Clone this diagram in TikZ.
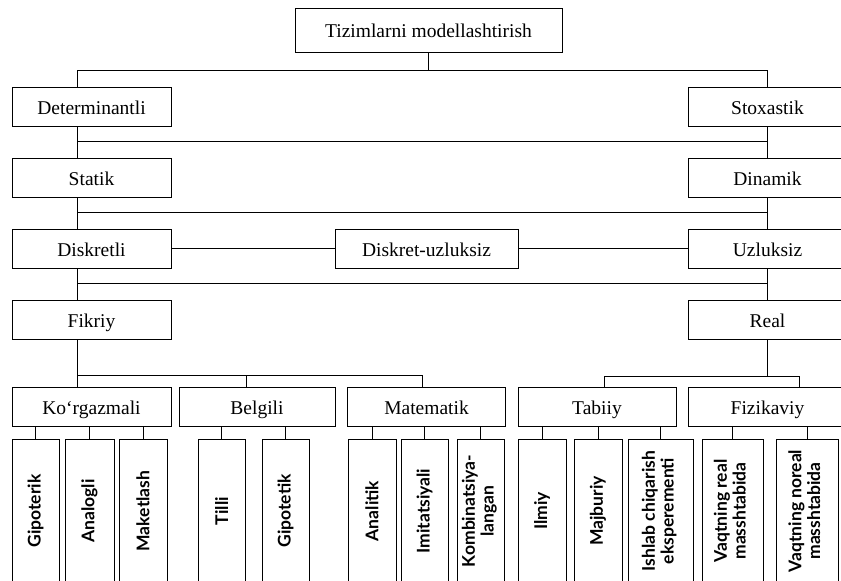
\documentclass[tikz,border=0pt]{standalone}
\usepackage{fontspec}
\setmainfont{Liberation Serif}
\newfontfamily\labfont{Lato}
\usepackage{tikz}

\begin{document}
\begin{tikzpicture}[x=1pt, y=-1pt, line width=1pt,
    box/.style={draw, inner sep=0pt, minimum height=39pt, minimum width=159pt,
      text height=16pt, text depth=1pt, font=\fontsize{19.5}{21}\selectfont},
    tallbox/.style={draw, inner sep=0pt, minimum height=144pt,
      font=\labfont\bfseries\fontsize{17.5}{18.5}\selectfont}]
	\useasboundingbox (0, 0) rectangle (841, 581);
	% top of the tree
	\node [box, minimum width=267pt, minimum height=44pt] (Top) at (428.5, 30) {Tizimlarni modellashtirish};
	\node [box] (Det) at (91.5, 106.5) {Determinantli};
	\node [box] (Sto) at (767.5, 106.5) {Stoxastik};
	\node [box] (Sta) at (91.5, 177.5) {Statik};
	\node [box] (Din) at (767.5, 177.5) {Dinamik};
	\node [box] (Dis) at (91.5, 248.5) {Diskretli};
	\node [box, minimum width=183pt] (DU) at (426.5, 248.5) {Diskret-uzluksiz};
	\node [box] (Uzl) at (767.5, 248.5) {Uzluksiz};
	\node [box] (Fik) at (91.5, 319.5) {Fikriy};
	\node [box] (Rea) at (767.5, 319.5) {Real};
	% second level
	\node [box] (Kor) at (91.5, 406.5) {Ko‘rgazmali};
	\node [box, minimum width=156pt] (Bel) at (257, 406.5) {Belgili};
	\node [box, minimum width=158pt] (Mat) at (426.5, 406.5) {Matematik};
	\node [box, minimum width=158pt] (Tab) at (597, 406.5) {Tabiiy};
	\node [box] (Fiz) at (767.5, 406.5) {Fizikaviy};
	% bottom row
	\node [tallbox, minimum width=47pt] (Gip) at (35.5, 511) {\rotatebox{90}{Gipoterik}};
	\node [tallbox, minimum width=49pt] (Ana) at (89.5, 511) {\rotatebox{90}{Analogli}};
	\node [tallbox, minimum width=48pt] (Mak) at (143, 511) {\rotatebox{90}{Maketlash}};
	\node [tallbox, minimum width=47pt] (Til) at (221.5, 511) {\rotatebox{90}{Tilli}};
	\node [tallbox, minimum width=47pt] (Gpt) at (285.5, 511) {\rotatebox{90}{Gipotetik}};
	\node [tallbox, minimum width=48pt] (Anl) at (372, 511) {\rotatebox{90}{Analitik}};
	\node [tallbox, minimum width=47pt] (Imi) at (424.5, 511) {\rotatebox{90}{Imitatsiyali}};
	\node [tallbox, minimum width=47pt] (Kom) at (480.5, 511) {\rotatebox{90}{\begin{tabular}{@{}c@{}}Kombinatsiya-\\langan\end{tabular}}};
	\node [tallbox, minimum width=48pt] (Ilm) at (542, 511) {\rotatebox{90}{Ilmiy}};
	\node [tallbox, minimum width=48pt] (Maj) at (598, 511) {\rotatebox{90}{Majburiy}};
	\node [tallbox, minimum width=65pt] (Ish) at (660.5, 511) {\rotatebox{90}{\begin{tabular}{@{}c@{}}Ishlab chiqarish\\eksperementi\end{tabular}}};
	\node [tallbox, minimum width=61pt] (VR) at (732.5, 511) {\rotatebox{90}{\begin{tabular}{@{}c@{}}Vaqtning real\\masshtabida\end{tabular}}};
	\node [tallbox, minimum width=62pt] (VN) at (807, 511) {\rotatebox{90}{\begin{tabular}{@{}c@{}}Vaqtning noreal\\masshtabida\end{tabular}}};
	% bus lines
	\coordinate (L1) at (77, 70);
	\coordinate (R1) at (767, 70);
	\coordinate (L2) at (77, 141);
	\coordinate (R2) at (767, 141);
	\coordinate (L3) at (77, 212);
	\coordinate (R3) at (767, 212);
	\coordinate (L4) at (77, 283);
	\coordinate (R4) at (767, 283);
	\coordinate (L5) at (77, 375);
	\coordinate (B5) at (246, 375);
	\coordinate (M5) at (422, 375);
	\coordinate (T5) at (604, 376);
	\coordinate (F5) at (799, 376);
	\draw (Top) -- (Top |- L1);
	\draw (L1) -- (R1);
	\draw (L1) -- (L1 |- Det.north);
	\draw (R1) -- (R1 |- Sto.north);
	\draw (L2 |- Det.south) -- (L2 |- Sta.north);
	\draw (R2 |- Sto.south) -- (R2 |- Din.north);
	\draw (L2) -- (R2);
	\draw (L3 |- Sta.south) -- (L3 |- Dis.north);
	\draw (R3 |- Din.south) -- (R3 |- Uzl.north);
	\draw (L3) -- (R3);
	\draw (Dis) -- (DU);
	\draw (DU) -- (Uzl);
	\draw (L4 |- Dis.south) -- (L4 |- Fik.north);
	\draw (R4 |- Uzl.south) -- (R4 |- Rea.north);
	\draw (L4) -- (R4);
	\draw (L5 |- Fik.south) -- (L5 |- Kor.north);
	\draw (L5) -- (M5);
	\draw (B5) -- (B5 |- Bel.north);
	\draw (M5) -- (M5 |- Mat.north);
	\draw (R4 |- Rea.south) -- (R4 |- T5);
	\draw (T5) -- (F5);
	\draw (T5) -- (T5 |- Tab.north);
	\draw (F5) -- (F5 |- Fiz.north);
	% ticks to the bottom row
	\draw (Gip.north) -- (Gip.north |- Kor.south);
	\draw (Ana.north) -- (Ana.north |- Kor.south);
	\draw (Mak.north) -- (Mak.north |- Kor.south);
	\draw (Til.north) -- (Til.north |- Bel.south);
	\draw (Gpt.north) -- (Gpt.north |- Bel.south);
	\draw (Anl.north) -- (Anl.north |- Mat.south);
	\draw (Imi.north) -- (Imi.north |- Mat.south);
	\draw (Kom.north) -- (Kom.north |- Mat.south);
	\draw (Ilm.north) -- (Ilm.north |- Tab.south);
	\draw (Maj.north) -- (Maj.north |- Tab.south);
	\draw (Ish.north) -- (Ish.north |- Tab.south);
	\draw (VR.north) -- (VR.north |- Fiz.south);
	\draw (VN.north) -- (VN.north |- Fiz.south);
\end{tikzpicture}
\end{document}
